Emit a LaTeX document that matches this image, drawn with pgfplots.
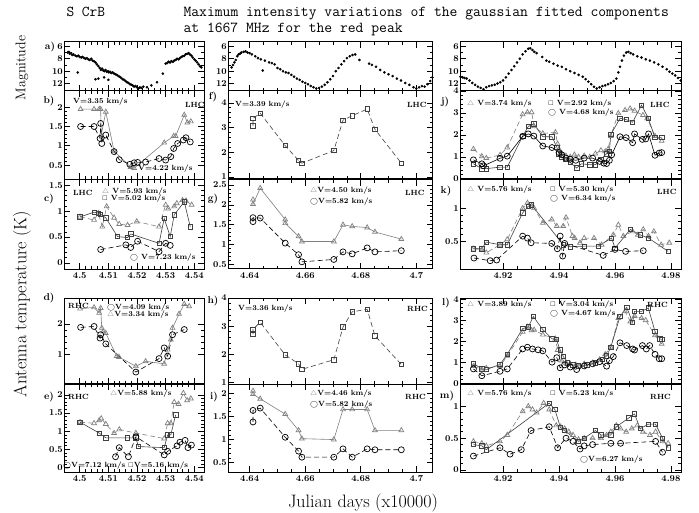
\documentclass[border=0pt]{standalone}
\usepackage{amssymb}
\usepackage{fontspec}
\usepackage{pgfplots}
\pgfplotsset{compat=1.18}
\newcommand{\ltri}{\textcolor{gray}{$\triangle$}}
\newcommand{\lsq}{$\scriptstyle\square$}
\newcommand{\lcir}{$\bigcirc$}
\pgfplotsset{
  panel/.style={scale only axis, anchor=north west, tick align=inside,
    major tick length=6pt, minor tick length=3pt,
    axis line style={line width=1pt},
    every tick/.append style={line width=0.7pt, black},
    tick label style={font=\bfseries\fontsize{9}{10}\selectfont},
    yticklabel style={inner sep=1pt},
    /pgf/number format/assume math mode=true,
    minor y tick num=4},
  colA/.style={xmin=4.4945, xmax=4.5434, width=140pt, xtick={4.5,4.51,4.52,4.53,4.54}, minor x tick num=4},
  colB/.style={xmin=4.6322, xmax=4.7060, width=205pt, xtick={4.64,4.66,4.68,4.7}, minor x tick num=3},
  colC/.style={xmin=4.9046, xmax=4.9836, width=221pt, xtick={4.92,4.94,4.96,4.98}, minor x tick num=3},
  labA/.style={xticklabels={4.5,4.51,4.52,4.53,4.54}},
  labB/.style={xticklabels={4.64,4.66,4.68,4.7}},
  labC/.style={xticklabels={4.92,4.94,4.96,4.98}},
  nolab/.style={xticklabels={}},
  mag/.style={y dir=reverse, ymin=5.3, ymax=13.2, ytick={6,8,10,12}, minor y tick num=1, height=49pt, nolab},
  tri/.style={draw=gray, line width=0.6pt, mark=triangle, mark size=2.8pt, mark options={solid, draw=gray, fill=none, line width=0.7pt}},
  sq/.style={draw=black!75, line width=0.6pt, mark=square, mark size=2.2pt, mark options={solid, draw=black!75, line width=0.7pt}},
  cir/.style={draw=black, line width=0.6pt, mark=o, mark size=3pt, mark options={solid, line width=0.7pt}},
  dsh/.style={dash pattern=on 5pt off 3pt},
  dot/.style={only marks, mark=*, mark size=1.1pt, black},
}
\begin{document}
\begin{tikzpicture}
\useasboundingbox (0pt,0pt) rectangle (699pt,-513pt);
% titles
\node[anchor=base west, font=\ttfamily\fontsize{15}{18}\selectfont] at (63pt,-17pt) {S CrB};
\node[anchor=base west, font=\ttfamily\fontsize{15.2}{18}\selectfont] at (180pt,-17pt) {Maximum intensity variations of the gaussian fitted components};
\node[anchor=base west, font=\ttfamily\fontsize{15.2}{18}\selectfont] at (180pt,-33pt) {at 1667 MHz for the red peak};
\node[rotate=90, font=\fontsize{14}{16}\selectfont] at (22pt,-68pt) {Magnitude};
\node[rotate=90, font=\fontsize{18}{20}\selectfont] at (22pt,-304pt) {Antenna temperature (K)};
\node[font=\fontsize{18}{20}\selectfont] at (363pt,-503pt) {Julian days (x10000)};

% ---------- Magnitude row ----------
\begin{axis}[panel, colA, mag, at={(64pt,-42pt)}]
\addplot[dot] coordinates {(4.4958,7.0)(4.4962,6.9)(4.4965,7.2)(4.4970,7.1)(4.4974,7.4)(4.4978,7.3)(4.4985,7.5)(4.4990,7.6)(4.4995,7.5)(4.5000,7.7)(4.5005,7.8)(4.5010,7.7)(4.5015,7.9)(4.5020,8.0)(4.5025,7.9)(4.5030,8.1)(4.5035,8.2)(4.5040,8.0)(4.5045,8.3)(4.5050,8.4)(4.5055,8.6)(4.5060,8.9)(4.5065,9.2)(4.5070,9.5)(4.5074,9.8)(4.5078,9.6)(4.5082,9.9)(4.5086,10.0)(4.5090,9.8)(4.5094,10.1)(4.5098,10.0)(4.5102,10.2)(4.5106,10.1)(4.5110,10.3)(4.5115,10.2)(4.5120,10.4)(4.5125,10.5)(4.5130,10.6)(4.5135,10.8)(4.5140,10.9)(4.5145,11.1)(4.5150,11.3)(4.5155,11.4)(4.5160,11.6)(4.5165,11.8)(4.5170,11.9)(4.5175,12.1)(4.5180,12.2)(4.5185,12.3)(4.5190,12.5)(4.5195,12.4)(4.5200,12.6)(4.5205,12.8)(4.5210,12.6)(4.5215,12.7)(4.5222,12.5)(4.5235,12.6)(4.5250,12.3)(4.5270,11.8)(4.5290,10.4)(4.5300,8.8)(4.5305,8.7)(4.5310,8.5)(4.5315,8.6)(4.5320,8.4)(4.5325,8.5)(4.5330,8.3)(4.5335,8.2)(4.5340,8.0)(4.5345,8.1)(4.5350,7.9)(4.5355,7.7)(4.5360,7.6)(4.5365,7.5)(4.5370,7.3)(4.5375,7.2)(4.5380,7.1)(4.5385,7.3)(4.5390,7.5)(4.5395,7.8)(4.5400,8.1)(4.5405,8.3)(4.5410,8.6)(4.5415,8.9)(4.5420,9.2)(4.5425,9.4)(4.4993,10.2)(4.5055,11.3)(4.5065,11.2)(4.5085,11.0)(4.5100,11.4)};
\end{axis}
\begin{axis}[panel, colB, mag, at={(228pt,-42pt)}]
\addplot[dot] coordinates {(4.6335,9.4)(4.6340,9.0)(4.6345,8.6)(4.6350,8.2)(4.6355,7.6)(4.6360,7.3)(4.6365,7.2)(4.6370,7.0)(4.6378,6.9)(4.6385,6.8)(4.6392,7.0)(4.6400,7.1)(4.6408,7.3)(4.6420,7.6)(4.6430,7.9)(4.6440,8.1)(4.6447,9.9)(4.6455,8.3)(4.6470,8.6)(4.6480,8.7)(4.6490,8.9)(4.6500,9.5)(4.6510,9.7)(4.6520,10.0)(4.6530,10.2)(4.6540,10.3)(4.6550,10.6)(4.6560,10.9)(4.6570,11.2)(4.6580,11.4)(4.6590,11.7)(4.6600,11.9)(4.6610,12.1)(4.6620,12.4)(4.6630,12.6)(4.6640,12.8)(4.6650,12.7)(4.6660,12.5)(4.6670,12.2)(4.6680,11.8)(4.6690,11.3)(4.6700,10.8)(4.6710,10.0)(4.6720,9.5)(4.6730,8.9)(4.6740,8.4)(4.6750,7.9)(4.6760,7.6)(4.6770,7.4)(4.6780,7.3)(4.6795,8.2)(4.6830,8.8)(4.6840,9.0)(4.6855,9.3)(4.6870,9.8)(4.6885,10.2)(4.6900,10.5)(4.6915,10.8)(4.6930,11.2)(4.6945,11.5)(4.6960,11.9)(4.6975,12.2)(4.6990,12.6)(4.7000,12.8)(4.7010,12.6)(4.7020,12.4)(4.7030,12.5)(4.7040,12.1)(4.7050,11.6)(4.7058,11.0)};
\end{axis}
\begin{axis}[panel, colC, mag, at={(460pt,-42pt)}]
\addplot[dot] coordinates {(4.9048,10.9)(4.9055,11.0)(4.9062,11.1)(4.9070,11.2)(4.9080,11.5)(4.9090,11.9)(4.9100,12.2)(4.9110,12.5)(4.9120,12.7)(4.9130,12.9)(4.9140,12.6)(4.9150,12.4)(4.9160,12.3)(4.9170,12.2)(4.9180,12.0)(4.9190,11.8)(4.9200,11.5)(4.9210,11.0)(4.9220,10.4)(4.9230,9.8)(4.9240,9.2)(4.9250,8.6)(4.9260,8.0)(4.9270,7.3)(4.9280,6.8)(4.9290,6.4)(4.9297,6.3)(4.9305,6.6)(4.9312,6.9)(4.9320,7.1)(4.9340,7.7)(4.9355,8.3)(4.9365,8.5)(4.9380,8.8)(4.9395,9.1)(4.9410,9.3)(4.9425,9.7)(4.9440,10.0)(4.9455,10.3)(4.9470,10.6)(4.9485,10.9)(4.9495,11.3)(4.9505,11.7)(4.9515,12.1)(4.9525,12.5)(4.9535,12.8)(4.9545,12.6)(4.9555,12.4)(4.9565,12.3)(4.9575,12.1)(4.9585,11.9)(4.9595,11.6)(4.9605,11.2)(4.9612,10.2)(4.9618,9.3)(4.9625,8.3)(4.9632,7.5)(4.9640,7.0)(4.9648,6.9)(4.9656,7.1)(4.9665,7.3)(4.9680,7.6)(4.9695,7.8)(4.9710,8.1)(4.9725,8.3)(4.9740,8.6)(4.9755,8.9)(4.9770,9.3)(4.9785,9.7)(4.9795,10.1)(4.9805,10.4)(4.9815,10.7)(4.9825,11.1)(4.9835,11.5)};
\end{axis}

% ---------- Row b f j ----------
\begin{axis}[panel, colA, nolab, at={(64pt,-91pt)}, height=88pt, ymin=0.14, ymax=2.42, ytick={0.5,1,1.5,2}]
\addplot[tri] coordinates {(4.5003,1.95)(4.5050,1.95)(4.5068,1.95)(4.5073,1.95)(4.5075,1.28)(4.5091,1.88)(4.5120,0.86)(4.5178,0.45)(4.5190,0.42)(4.5295,1.08)(4.5328,1.25)(4.5335,1.25)(4.5365,1.80)(4.5376,1.60)(4.5388,1.63)};
\addplot[cir,dsh] coordinates {(4.5003,1.50)(4.5050,1.50)(4.5071,1.19)(4.5073,1.58)(4.5077,1.06)(4.5091,1.28)(4.5120,0.85)(4.5138,0.64)(4.5175,0.52)(4.5190,0.56)(4.5202,0.57)(4.5230,0.58)(4.5277,0.67)(4.5300,0.63)(4.5318,0.72)(4.5328,0.93)(4.5342,1.06)(4.5362,1.15)(4.5371,1.21)(4.5386,1.10)};
\end{axis}
\begin{axis}[panel, colB, nolab, at={(228pt,-91pt)}, height=88pt, ymin=0.92, ymax=4.48, ytick={1,2,3,4}]
\addplot[sq,dsh] coordinates {(4.6412,3.07)(4.6412,3.37)(4.6438,3.58)(4.6528,2.27)(4.6576,1.67)(4.6588,1.56)(4.6703,2.07)(4.6736,3.30)(4.6769,3.48)(4.6823,3.75)(4.6851,2.93)(4.6946,1.56)};
\end{axis}
\begin{axis}[panel, colC, nolab, at={(460pt,-91pt)}, height=88pt, ymin=0, ymax=4, ytick={0,1,2,3,4}]
\addplot[tri,dsh] coordinates {(4.9094,1.36)(4.9124,1.03)(4.9140,0.95)(4.9189,1.09)(4.9215,1.43)(4.9270,2.94)(4.9287,3.03)(4.9302,3.03)(4.9311,2.39)(4.9342,2.07)(4.9387,2.12)(4.9395,1.60)(4.9400,1.35)(4.9410,1.15)(4.9425,1.05)(4.9440,1.00)(4.9455,1.10)(4.9470,1.00)(4.9490,1.05)(4.9510,1.00)(4.9530,1.15)(4.9550,1.30)(4.9565,1.25)(4.9575,1.35)(4.9585,1.95)(4.9612,2.99)(4.9636,3.13)(4.9654,3.20)(4.9670,3.10)(4.9700,2.90)(4.9715,2.75)(4.9743,1.95)(4.9767,1.73)};
\addplot[sq] coordinates {(4.9094,0.69)(4.9124,0.47)(4.9140,0.47)(4.9189,0.54)(4.9215,0.54)(4.9270,1.95)(4.9290,2.39)(4.9310,2.51)(4.9342,1.92)(4.9375,1.92)(4.9392,1.45)(4.9400,1.15)(4.9410,1.00)(4.9425,0.90)(4.9440,0.75)(4.9463,0.50)(4.9480,0.69)(4.9510,0.65)(4.9530,0.65)(4.9550,0.90)(4.9570,1.15)(4.9580,1.25)(4.9585,2.02)(4.9618,2.76)(4.9640,2.70)(4.9663,2.58)(4.9695,3.36)(4.9719,2.76)(4.9743,1.88)(4.9767,1.88)};
\addplot[cir] coordinates {(4.9094,0.87)(4.9124,0.69)(4.9130,0.60)(4.9189,0.94)(4.9215,1.04)(4.9270,1.94)(4.9290,2.05)(4.9310,1.95)(4.9342,1.50)(4.9375,1.43)(4.9400,1.20)(4.9410,1.10)(4.9425,0.95)(4.9440,0.90)(4.9460,0.85)(4.9490,0.95)(4.9520,0.95)(4.9545,0.80)(4.9560,0.72)(4.9570,0.70)(4.9580,0.85)(4.9588,1.10)(4.9618,1.92)(4.9640,1.88)(4.9663,1.65)(4.9670,2.05)(4.9698,1.80)(4.9710,1.82)(4.9720,2.05)(4.9743,1.08)(4.9758,1.18)(4.9767,1.20)};
\end{axis}

% ---------- Row c g k ----------
\begin{axis}[panel, colA, labA, at={(64pt,-180pt)}, height=89pt, ymin=-0.115, ymax=1.6, ytick={0,0.5,1,1.5}]
\addplot[tri,dsh] coordinates {(4.5001,0.89)(4.5050,0.83)(4.5065,0.96)(4.5079,0.70)(4.5094,1.09)(4.5120,0.87)(4.5138,0.75)(4.5167,0.73)(4.5199,0.80)(4.5277,0.70)(4.5300,1.12)(4.5309,1.05)(4.5330,1.09)(4.5339,1.15)(4.5359,1.21)(4.5371,1.20)(4.5391,1.12)};
\addplot[sq] coordinates {(4.5001,0.89)(4.5050,0.98)(4.5065,0.96)(4.5073,0.94)(4.5091,0.87)(4.5132,0.51)(4.5167,0.49)(4.5178,0.56)(4.5277,0.38)(4.5295,0.86)(4.5316,0.51)(4.5330,0.93)(4.5365,1.18)(4.5386,0.70)};
\addplot[cir,dsh] coordinates {(4.5073,0.26)(4.5161,0.35)(4.5178,0.30)(4.5202,0.42)(4.5277,0.22)(4.5300,0.38)(4.5316,0.34)};
\end{axis}
\begin{axis}[panel, colB, labB, at={(228pt,-180pt)}, height=89pt, ymin=0.39, ymax=2.625, ytick={0.5,1,1.5,2,2.5}]
\addplot[tri] coordinates {(4.6412,2.13)(4.6412,2.02)(4.6438,2.42)(4.6528,1.63)(4.6528,1.54)(4.6576,1.21)(4.6588,1.08)(4.6703,1.08)(4.6736,1.50)(4.6769,1.46)(4.6823,1.43)(4.6851,1.32)(4.6946,1.14)};
\addplot[cir,dsh] coordinates {(4.6412,1.58)(4.6412,1.68)(4.6438,1.67)(4.6528,1.04)(4.6576,0.75)(4.6588,0.57)(4.6703,0.63)(4.6736,0.82)(4.6769,0.77)(4.6823,0.92)(4.6851,0.82)(4.6946,0.85)};
\end{axis}
\begin{axis}[panel, colC, labC, at={(460pt,-180pt)}, height=89pt, ymin=0.085, ymax=1.425, ytick={0.5,1}]
\addplot[tri,dsh] coordinates {(4.9094,0.39)(4.9124,0.38)(4.9140,0.33)(4.9189,0.45)(4.9215,0.53)(4.9270,1.00)(4.9287,1.08)(4.9302,1.04)(4.9311,1.00)(4.9342,0.78)(4.9374,0.83)(4.9392,0.73)(4.9415,0.73)(4.9425,0.86)(4.9448,0.58)(4.9456,0.55)(4.9475,0.48)(4.9490,0.55)(4.9525,0.55)(4.9552,0.45)(4.9594,0.60)(4.9612,0.75)(4.9630,0.58)(4.9663,0.65)(4.9682,0.60)(4.9701,0.68)(4.9720,0.58)(4.9739,0.65)(4.9765,0.45)(4.9794,0.48)};
\addplot[sq] coordinates {(4.9094,0.39)(4.9124,0.39)(4.9140,0.49)(4.9189,0.45)(4.9215,0.45)(4.9270,0.93)(4.9290,1.03)(4.9302,1.05)(4.9415,0.45)(4.9440,0.42)(4.9490,0.43)(4.9540,0.43)(4.9588,0.55)(4.9600,0.40)(4.9655,0.68)(4.9690,0.60)(4.9720,0.55)(4.9790,0.35)};
\addplot[cir,dsh] coordinates {(4.9096,0.25)(4.9154,0.21)(4.9177,0.22)(4.9270,0.58)(4.9287,0.55)(4.9300,0.48)(4.9374,0.47)(4.9394,0.39)(4.9404,0.58)(4.9413,0.28)(4.9420,0.47)(4.9558,0.29)(4.9600,0.38)(4.9638,0.35)(4.9701,0.36)};
\end{axis}

% ---------- Row d h l ----------
\begin{axis}[panel, colA, nolab, at={(64pt,-298pt)}, height=86pt, ymin=0.04, ymax=2.85, ytick={1,2}]
\addplot[tri] coordinates {(4.5001,2.50)(4.5050,2.54)(4.5068,2.36)(4.5073,2.52)(4.5077,1.87)(4.5082,1.75)(4.5091,1.70)(4.5129,0.95)(4.5137,0.92)(4.5196,0.62)(4.5230,0.78)(4.5295,0.70)(4.5307,1.16)(4.5318,1.49)(4.5324,1.87)(4.5347,2.33)(4.5365,2.65)(4.5382,2.58)};
\addplot[cir,dsh] coordinates {(4.5003,1.89)(4.5050,1.92)(4.5071,1.54)(4.5073,1.65)(4.5091,1.35)(4.5196,0.43)(4.5277,0.87)(4.5295,1.22)(4.5307,0.95)(4.5324,1.65)(4.5365,1.82)};
\end{axis}
\begin{axis}[panel, colB, nolab, at={(228pt,-298pt)}, height=86pt, ymin=0.95, ymax=4.0, ytick={1,2,3,4}]
\addplot[sq,dsh] coordinates {(4.6412,2.72)(4.6412,2.89)(4.6438,3.14)(4.6528,1.98)(4.6576,1.67)(4.6588,1.47)(4.6703,1.81)(4.6736,2.97)(4.6769,3.51)(4.6823,3.60)(4.6851,2.66)(4.6946,1.64)};
\end{axis}
\begin{axis}[panel, colC, nolab, at={(460pt,-298pt)}, height=86pt, ymin=0, ymax=4.05, ytick={0,1,2,3,4}]
\addplot[tri,dsh] coordinates {(4.9094,0.84)(4.9124,0.68)(4.9140,0.75)(4.9189,0.84)(4.9215,1.32)(4.9270,2.45)(4.9287,2.69)(4.9302,2.53)(4.9311,2.55)(4.9342,2.32)(4.9387,2.13)(4.9395,1.60)(4.9410,1.10)(4.9425,1.00)(4.9440,0.95)(4.9460,0.90)(4.9490,0.95)(4.9520,1.00)(4.9545,1.15)(4.9565,1.40)(4.9585,1.73)(4.9612,3.10)(4.9636,3.42)(4.9655,2.94)(4.9670,3.20)(4.9695,3.10)(4.9710,3.00)(4.9743,2.29)(4.9767,1.89)};
\addplot[sq] coordinates {(4.9094,0.97)(4.9124,0.71)(4.9140,0.68)(4.9189,0.92)(4.9215,1.40)(4.9270,2.61)(4.9290,2.69)(4.9308,3.18)(4.9342,2.56)(4.9375,2.13)(4.9390,2.10)(4.9404,1.61)(4.9415,1.30)(4.9430,1.00)(4.9450,0.90)(4.9470,0.85)(4.9500,0.90)(4.9530,1.00)(4.9555,1.15)(4.9570,1.32)(4.9585,1.73)(4.9618,3.18)(4.9642,3.61)(4.9663,2.90)(4.9670,3.42)(4.9695,3.42)(4.9719,3.58)(4.9743,2.48)(4.9760,2.13)(4.9767,2.10)};
\addplot[cir,dsh] coordinates {(4.9094,0.71)(4.9124,0.39)(4.9189,0.60)(4.9215,0.71)(4.9270,1.65)(4.9287,1.73)(4.9305,1.65)(4.9325,1.61)(4.9342,1.56)(4.9375,1.03)(4.9392,1.24)(4.9404,0.76)(4.9420,0.90)(4.9440,0.80)(4.9463,0.68)(4.9490,0.85)(4.9520,0.95)(4.9545,1.05)(4.9570,0.84)(4.9580,1.10)(4.9594,1.29)(4.9618,1.94)(4.9642,1.81)(4.9663,1.65)(4.9670,1.60)(4.9698,1.81)(4.9712,1.65)(4.9724,1.81)(4.9743,1.40)(4.9758,1.19)(4.9767,1.19)};
\end{axis}

% ---------- Row e i m ----------
\begin{axis}[panel, colA, labA, at={(64pt,-384pt)}, height=88pt, ymin=-0.12, ymax=2.3, ytick={0,0.5,1,1.5,2}]
\addplot[tri,dsh] coordinates {(4.5001,1.25)(4.5050,1.22)(4.5068,1.30)(4.5075,1.35)(4.5091,1.20)(4.5120,0.95)(4.5138,1.05)(4.5196,0.95)(4.5295,0.80)(4.5307,1.22)(4.5318,1.22)(4.5330,1.80)(4.5345,1.75)(4.5362,2.05)(4.5375,1.85)(4.5388,1.90)};
\addplot[sq] coordinates {(4.5001,1.25)(4.5068,0.95)(4.5091,0.82)(4.5167,0.82)(4.5196,0.82)(4.5205,0.58)(4.5295,0.55)(4.5307,0.90)(4.5318,0.90)(4.5335,1.45)};
\addplot[cir,dsh] coordinates {(4.5125,0.30)(4.5138,0.55)(4.5170,0.30)(4.5196,0.85)(4.5295,0.35)(4.5307,0.45)(4.5340,0.60)(4.5350,0.70)(4.5368,0.75)(4.5378,0.55)(4.5390,0.62)};
\end{axis}
\begin{axis}[panel, colB, labB, at={(228pt,-384pt)}, height=88pt, ymin=0.3, ymax=2.2, ytick={0.5,1,1.5,2}]
\addplot[tri] coordinates {(4.6412,2.05)(4.6412,1.98)(4.6438,1.88)(4.6528,1.55)(4.6576,1.20)(4.6588,1.02)(4.6703,1.00)(4.6736,1.65)(4.6769,1.65)(4.6823,1.65)(4.6851,1.20)(4.6946,1.20)};
\addplot[cir,dsh] coordinates {(4.6412,1.38)(4.6412,1.63)(4.6438,1.68)(4.6528,1.05)(4.6576,0.75)(4.6588,0.62)(4.6703,0.62)(4.6736,0.80)(4.6769,0.62)(4.6823,0.80)(4.6851,0.78)(4.6946,0.78)};
\end{axis}
\begin{axis}[panel, colC, labC, at={(460pt,-384pt)}, height=88pt, ymin=-0.03, ymax=1.35, ytick={0,0.5,1}]
\addplot[tri,dsh] coordinates {(4.9094,0.45)(4.9124,0.42)(4.9140,0.38)(4.9189,0.45)(4.9215,0.55)(4.9270,0.92)(4.9290,1.00)(4.9305,0.95)(4.9320,0.90)(4.9345,1.05)(4.9365,0.95)(4.9390,0.70)(4.9405,0.68)(4.9420,0.65)(4.9435,0.60)(4.9450,0.55)(4.9470,0.48)(4.9490,0.50)(4.9520,0.50)(4.9550,0.50)(4.9570,0.55)(4.9585,0.60)(4.9605,0.70)(4.9620,0.65)(4.9640,0.60)(4.9660,0.65)(4.9680,0.70)(4.9700,0.60)(4.9725,0.55)(4.9745,0.60)(4.9770,0.45)(4.9790,0.42)};
\addplot[sq] coordinates {(4.9094,0.40)(4.9124,0.38)(4.9140,0.32)(4.9365,1.05)(4.9385,0.95)(4.9405,0.67)(4.9420,0.62)(4.9470,0.45)(4.9490,0.50)(4.9530,0.62)(4.9550,0.55)(4.9585,0.55)(4.9605,0.68)(4.9650,0.82)(4.9670,0.88)(4.9690,0.65)(4.9720,0.72)(4.9745,0.72)(4.9770,0.50)(4.9790,0.35)};
\addplot[cir,dsh] coordinates {(4.9094,0.22)(4.9189,0.35)(4.9225,0.25)(4.9265,0.32)(4.9300,0.62)(4.9365,0.68)(4.9395,0.35)(4.9425,0.50)(4.9450,0.45)(4.9475,0.33)(4.9490,0.38)(4.9520,0.40)(4.9585,0.42)(4.9620,0.42)(4.9745,0.45)(4.9770,0.28)};
\end{axis}

% ---------- panel letters ----------
\begin{scope}[every node/.style={font=\bfseries\fontsize{10}{11}\selectfont, inner sep=0pt}]
\node at (50pt,-47pt) {a)};
\node at (49pt,-101pt) {b)};
\node at (49pt,-199pt) {c)};
\node at (49pt,-298pt) {d)};
\node at (49pt,-397pt) {e)};
\node at (213pt,-97pt) {f)};
\node at (213pt,-199pt) {g)};
\node at (213pt,-301pt) {h)};
\node at (214pt,-397pt) {i)};
\node at (445pt,-102pt) {j)};
\node at (446pt,-191pt) {k)};
\node at (446pt,-303pt) {l)};
\node at (447pt,-396pt) {m)};
\end{scope}
% ---------- in-panel legends ----------
\begin{scope}[every node/.style={anchor=west, inner sep=0pt, font=\bfseries\fontsize{7.5}{8}\selectfont}]
\node at (73pt,-102pt) {V=3.35 km/s};
\node at (185pt,-105pt) {LHC};
\node at (138pt,-169pt) {V=4.22 km/s};
\node at (235pt,-105pt) {V=3.39 km/s};
\node at (407pt,-105pt) {LHC};
\node at (467pt,-104pt) {\ltri\ V=3.74 km/s};
\node at (548pt,-104pt) {\lsq\ V=2.92 km/s};
\node at (548pt,-113pt) {\lcir\ V=4.68 km/s};
\node at (650pt,-105pt) {LHC};
\node at (73pt,-193pt) {LHC};
\node at (102pt,-192pt) {\ltri\ V=5.93 km/s};
\node at (102pt,-199pt) {\lsq\ V=5.02 km/s};
\node at (130pt,-258pt) {\lcir\ V=7.23 km/s};
\node at (310pt,-191pt) {\ltri V=4.50 km/s};
\node at (310pt,-202pt) {\lcir V=5.82 km/s};
\node at (405pt,-193pt) {LHC};
\node at (467pt,-190pt) {\ltri\ V=5.76 km/s};
\node at (550pt,-190pt) {\lsq\ V=5.30 km/s};
\node at (550pt,-199pt) {\lcir\ V=6.34 km/s};
\node at (657pt,-192pt) {LHC};
\node at (68pt,-306pt) {RHC};
\node at (107pt,-308pt) {\lcir V=4.09 km/s};
\node at (107pt,-315pt) {\ltri V=3.34 km/s};
\node at (238pt,-309pt) {V=3.36 km/s};
\node at (407pt,-309pt) {RHC};
\node at (467pt,-305pt) {\ltri\ V=3.89 km/s};
\node at (550pt,-305pt) {\lsq\ V=3.04 km/s};
\node at (550pt,-314pt) {\lcir\ V=4.67 km/s};
\node at (647pt,-305pt) {RHC};
\node at (68pt,-397pt) {RHC};
\node at (110pt,-394pt) {\ltri V=5.88 km/s};
\node at (63pt,-466pt) {\lcir V=7.12 km/s};
\node at (128pt,-466pt) {\lsq V=5.16 km/s};
\node at (310pt,-394pt) {\ltri V=4.46 km/s};
\node at (310pt,-405pt) {\lcir V=5.82 km/s};
\node at (405pt,-397pt) {RHC};
\node at (467pt,-394pt) {\ltri\ V=5.76 km/s};
\node at (550pt,-394pt) {\lsq\ V=5.23 km/s};
\node at (580pt,-460pt) {\lcir V=6.27 km/s};
\node at (650pt,-397pt) {RHC};
\end{scope}
\end{tikzpicture}
\end{document}
